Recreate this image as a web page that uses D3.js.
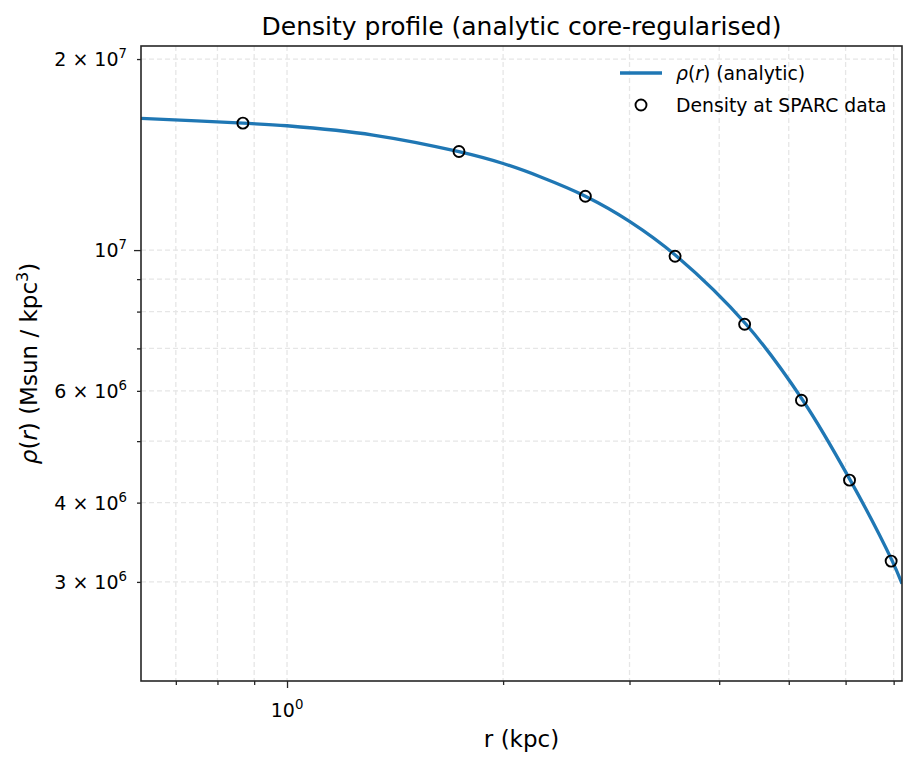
<!DOCTYPE html>
<html>
<head>
<meta charset="utf-8">
<script src="https://cdn.jsdelivr.net/npm/d3@7"></script>
<style>
  html, body { margin: 0; padding: 0; background: #fff; }
  svg { display: block; font-family: "DejaVu Sans", sans-serif; }
</style>
</head>
<body>
<svg id="chart" width="917" height="767"></svg>
<script>
// ---- data ----
const dataRadius = [0.868, 1.736, 2.604, 3.472, 4.340, 5.208, 6.076, 6.944];
const dataDensity = [1.585e7, 1.430e7, 1.216e7, 9.78e6, 7.64e6, 5.80e6, 4.34e6, 3.235e6];

const curveRadius = [0.626, 0.868, 1.0, 1.318, 1.736, 2.0, 2.252, 2.604, 3.0, 3.49, 4.36, 5.23, 6.09, 6.97, 7.19];
const curveDensity = [1.613e7, 1.585e7, 1.570e7, 1.518e7, 1.429e7, 1.369e7, 1.305e7, 1.216e7, 1.11e7, 9.78e6, 7.64e6, 5.80e6, 4.34e6, 3.235e6, 2.98e6];

const xDomain = [0.626, 7.19];
const yDomain = [2.094e6, 2.097e7];

const xMajorTicks = [1];
const xMinorTicks = [0.7, 0.8, 0.9, 2, 3, 4, 5, 6, 7];
const xTickLabels = [{ v: 1, mant: "", exp: "0" }];

const yMajorTicks = [1e7];
const yMinorTicks = [3e6, 4e6, 5e6, 6e6, 7e6, 8e6, 9e6, 2e7];
const yTickLabels = [
  { v: 2e7, mant: "2", exp: "7" },
  { v: 1e7, mant: "", exp: "7" },
  { v: 6e6, mant: "6", exp: "6" },
  { v: 4e6, mant: "4", exp: "6" },
  { v: 3e6, mant: "3", exp: "6" }
];

const titleText = "Density profile (analytic core-regularised)";
const xLabelText = "r (kpc)";
const legendCurveText = " (analytic)";
const legendPointsText = "Density at SPARC data";

// ---- layout ----
const L = 141, R = 902, T = 46, B = 681;
const svg = d3.select("#chart");

const x = d3.scaleLog().domain(xDomain).range([L, R]);
const y = d3.scaleLog().domain(yDomain).range([B, T]);

const gridColor = "#e6e6e6";
const axisColor = "#262626";

// grid
const grid = svg.append("g");
xMajorTicks.concat(xMinorTicks).forEach(v => {
  grid.append("line").attr("x1", x(v)).attr("x2", x(v)).attr("y1", T).attr("y2", B)
    .attr("stroke", gridColor).attr("stroke-width", 1.3).attr("stroke-dasharray", "5,3");
});
yMajorTicks.concat(yMinorTicks).forEach(v => {
  grid.append("line").attr("x1", L).attr("x2", R).attr("y1", y(v)).attr("y2", y(v))
    .attr("stroke", gridColor).attr("stroke-width", 1.3).attr("stroke-dasharray", "5,3");
});

// curve
const line = d3.line()
  .x(d => x(d[0])).y(d => y(d[1]))
  .curve(d3.curveCatmullRom.alpha(0.5));
const curvePts = curveRadius.map((r, i) => [r, curveDensity[i]]);
svg.append("defs").append("clipPath").attr("id", "clip")
  .append("rect").attr("x", L).attr("y", T).attr("width", R - L).attr("height", B - T);
svg.append("path").datum(curvePts)
  .attr("d", line).attr("fill", "none")
  .attr("stroke", "#1f77b4").attr("stroke-width", 3.3)
  .attr("clip-path", "url(#clip)");

// points
svg.append("g").selectAll("circle")
  .data(dataRadius.map((r, i) => [r, dataDensity[i]]))
  .join("circle")
  .attr("cx", d => x(d[0])).attr("cy", d => y(d[1])).attr("r", 5.5)
  .attr("fill", "none").attr("stroke", "#000").attr("stroke-width", 1.9);

// frame
svg.append("rect").attr("x", L).attr("y", T).attr("width", R - L).attr("height", B - T)
  .attr("fill", "none").attr("stroke", axisColor).attr("stroke-width", 1.6);

// axes ticks via d3 axes
const tickFont = 19;
const xAxisMajor = d3.axisBottom(x).tickValues(xMajorTicks).tickSize(7).tickFormat("");
const xAxisMinor = d3.axisBottom(x).tickValues(xMinorTicks).tickSize(4).tickFormat("");
const yAxisMajor = d3.axisLeft(y).tickValues(yMajorTicks).tickSize(7).tickFormat("");
const yAxisMinor = d3.axisLeft(y).tickValues(yMinorTicks).tickSize(4).tickFormat("");

[[xAxisMajor, `translate(0,${B})`], [xAxisMinor, `translate(0,${B})`],
 [yAxisMajor, `translate(${L},0)`], [yAxisMinor, `translate(${L},0)`]].forEach(([ax, tr]) => {
  const g = svg.append("g").attr("transform", tr).call(ax);
  g.select(".domain").remove();
  g.selectAll(".tick line").attr("stroke", axisColor).attr("stroke-width", 1.3);
});

// tick labels (mathtext style)
function mathLabel(sel, mant, exp) {
  if (mant) {
    sel.append("tspan").text(mant + " \u00d7 ");
  }
  sel.append("tspan").text("10");
  sel.append("tspan").attr("font-size", tickFont * 0.7).attr("dy", -tickFont * 0.42).text(exp);
}
xTickLabels.forEach(t => {
  const txt = svg.append("text").attr("x", x(t.v)).attr("y", 717)
    .attr("text-anchor", "middle").attr("font-size", tickFont).attr("fill", "#000");
  mathLabel(txt, t.mant, t.exp);
});
yTickLabels.forEach(t => {
  const txt = svg.append("text").attr("x", 127).attr("y", y(t.v) + 7)
    .attr("text-anchor", "end").attr("font-size", tickFont).attr("fill", "#000");
  mathLabel(txt, t.mant, t.exp);
});

// title
svg.append("text").attr("x", (L + R) / 2).attr("y", 35)
  .attr("text-anchor", "middle").attr("font-size", 25).attr("fill", "#000")
  .text(titleText);

// x label
svg.append("text").attr("x", (L + R) / 2).attr("y", 747)
  .attr("text-anchor", "middle").attr("font-size", 23).attr("fill", "#000")
  .text(xLabelText);

// y label
const yl = svg.append("text")
  .attr("transform", `translate(37,${(T + B) / 2}) rotate(-90)`)
  .attr("text-anchor", "middle").attr("font-size", 23).attr("fill", "#000");
yl.append("tspan").attr("font-style", "italic").text("\u03c1");
yl.append("tspan").text("(");
yl.append("tspan").attr("font-style", "italic").text("r");
yl.append("tspan").text(") (Msun / kpc");
yl.append("tspan").attr("font-size", 16).attr("dy", -9).text("3");
yl.append("tspan").attr("dy", 9).text(")");

// legend
const lg = svg.append("g");
lg.append("line").attr("x1", 620).attr("x2", 662).attr("y1", 73).attr("y2", 73)
  .attr("stroke", "#1f77b4").attr("stroke-width", 3.3);
const lt1 = lg.append("text").attr("x", 676).attr("y", 80).attr("font-size", 18.8).attr("fill", "#000");
lt1.append("tspan").attr("font-style", "italic").text("\u03c1");
lt1.append("tspan").text("(");
lt1.append("tspan").attr("font-style", "italic").text("r");
lt1.append("tspan").text(")" + legendCurveText);
lg.append("circle").attr("cx", 641).attr("cy", 105).attr("r", 5.5)
  .attr("fill", "none").attr("stroke", "#000").attr("stroke-width", 1.9);
lg.append("text").attr("x", 676).attr("y", 112).attr("font-size", 18.8).attr("fill", "#000")
  .text(legendPointsText);
</script>
</body>
</html>
